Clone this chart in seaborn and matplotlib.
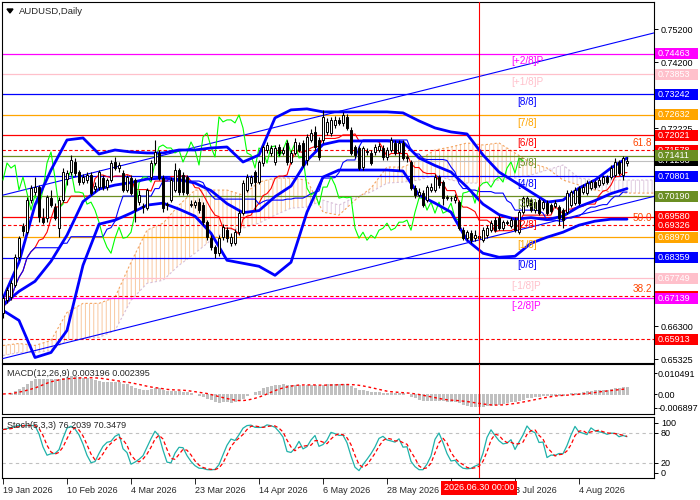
import numpy as np
import pandas as pd
import matplotlib
matplotlib.use("Agg")
import matplotlib.pyplot as plt
import seaborn as sns
from matplotlib.patches import Rectangle, Polygon

# ---------------- data ----------------
opens = [0.6669,0.6708,0.6717,0.6753,0.6837,0.6930,0.6912,0.7008,0.7032,0.7047,
0.6954,0.6954,0.7014,0.6987,0.6924,0.7008,0.7071,0.7092,0.7122,0.7092,
0.7062,0.7068,0.7083,0.7041,0.7047,0.7074,0.7047,0.7068,0.7122,0.7104,
0.7089,0.7038,0.7074,0.7068,0.7002,0.6987,0.6984,0.7077,0.7119,0.7149,
0.7074,0.6993,0.7008,0.7038,0.7098,0.7083,0.7077,0.6993,0.6993,0.7002,
0.6993,0.6942,0.6894,0.6867,0.6849,0.6897,0.6918,0.6879,0.6879,0.6912,
0.6969,0.7038,0.7059,0.7092,0.7062,0.7119,0.7158,0.7149,0.7122,0.7167,
0.7149,0.7179,0.7122,0.7149,0.7173,0.7179,0.7128,0.7188,0.7212,0.7188,
0.7188,0.7212,0.7209,0.7233,0.7248,0.7239,0.7257,0.7218,0.7167,0.7164,
0.7107,0.7152,0.7149,0.7152,0.7158,0.7164,0.7137,0.7158,0.7179,0.7152,
0.7179,0.7134,0.7122,0.7044,0.7023,0.7029,0.7008,0.7038,0.7038,0.7077,
0.7062,0.7014,0.7014,0.7008,0.7002,0.6918,0.6894,0.6909,0.6894,0.6900,
0.6888,0.6903,0.6918,0.6948,0.6954,0.6924,0.6939,0.6930,0.6948,0.6912,
0.6972,0.6993,0.7008,0.6978,0.7008,0.6984,0.6999,0.6993,0.6990,0.6987,
0.6978,0.6972,0.6993,0.6999,0.7044,0.7032,0.7029,0.7044,0.7062,0.7053,
0.7059,0.7077,0.7077,0.7083,0.7122,0.7083,0.7119]
closes = [0.6714,0.6738,0.6759,0.6837,0.6894,0.6915,0.7008,0.7044,0.7047,0.6957,
0.6942,0.7017,0.6993,0.6954,0.7008,0.7092,0.7089,0.7128,0.7089,0.7062,
0.7077,0.7083,0.7029,0.7050,0.7092,0.7047,0.7068,0.7119,0.7104,0.7113,
0.7038,0.7077,0.7029,0.6978,0.7023,0.6990,0.7038,0.7119,0.7152,0.7074,
0.6984,0.6996,0.7068,0.7098,0.7032,0.7032,0.7029,0.6996,0.7002,0.6978,
0.6942,0.6897,0.6867,0.6849,0.6894,0.6927,0.6894,0.6897,0.6912,0.6969,
0.7059,0.7077,0.7077,0.7062,0.7122,0.7167,0.7173,0.7164,0.7164,0.7149,
0.7158,0.7122,0.7149,0.7182,0.7158,0.7113,0.7197,0.7209,0.7167,0.7137,
0.7257,0.7242,0.7248,0.7248,0.7239,0.7263,0.7224,0.7149,0.7143,0.7104,
0.7164,0.7155,0.7119,0.7167,0.7170,0.7137,0.7158,0.7188,0.7149,0.7179,
0.7134,0.7137,0.7044,0.7023,0.7032,0.6993,0.7047,0.7047,0.7077,0.7053,
0.7014,0.7017,0.7015,0.7017,0.6924,0.6894,0.6912,0.6888,0.6903,0.6894,
0.6918,0.6924,0.6939,0.6918,0.6924,0.6942,0.6942,0.6948,0.6918,0.6972,
0.7014,0.7014,0.6978,0.7002,0.6969,0.7002,0.6969,0.6975,0.6999,0.6954,
0.6948,0.7029,0.7032,0.7038,0.6999,0.7047,0.7059,0.7062,0.7047,0.7068,
0.7077,0.7062,0.7104,0.7122,0.7089,0.7134,0.7126]
highs = [0.6723,0.6747,0.6768,0.6846,0.6900,0.6939,0.7017,0.7053,0.7077,0.7053,
0.6984,0.7023,0.7038,0.6999,0.7017,0.7104,0.7098,0.7143,0.7134,0.7098,
0.7086,0.7092,0.7092,0.7062,0.7098,0.7083,0.7074,0.7128,0.7137,0.7122,
0.7098,0.7083,0.7083,0.7074,0.7038,0.6999,0.7044,0.7128,0.7188,0.7158,
0.7083,0.7002,0.7077,0.7119,0.7104,0.7092,0.7083,0.7008,0.7008,0.7014,
0.7002,0.6948,0.6903,0.6873,0.6903,0.6936,0.6927,0.6909,0.6921,0.6978,
0.7068,0.7086,0.7083,0.7098,0.7128,0.7173,0.7182,0.7173,0.7173,0.7176,
0.7167,0.7188,0.7158,0.7194,0.7182,0.7188,0.7206,0.7221,0.7230,0.7197,
0.7278,0.7254,0.7257,0.7260,0.7257,0.7272,0.7266,0.7227,0.7173,0.7170,
0.7170,0.7164,0.7158,0.7176,0.7179,0.7173,0.7167,0.7197,0.7188,0.7188,
0.7188,0.7143,0.7128,0.7053,0.7044,0.7038,0.7053,0.7059,0.7086,0.7083,
0.7068,0.7023,0.7020,0.7026,0.7008,0.6927,0.6918,0.6918,0.6918,0.6912,
0.6927,0.6933,0.6948,0.6957,0.6963,0.6948,0.6948,0.6957,0.6957,0.6978,
0.7020,0.7020,0.7014,0.7008,0.7014,0.7008,0.7008,0.6999,0.7008,0.6993,
0.6984,0.7038,0.7038,0.7047,0.7050,0.7056,0.7068,0.7068,0.7068,0.7077,
0.7083,0.7083,0.7113,0.7134,0.7128,0.7140,0.7137]
lows = [0.6654,0.6699,0.6708,0.6747,0.6828,0.6900,0.6906,0.6999,0.7023,0.6942,
0.6936,0.6942,0.6987,0.6948,0.6897,0.7002,0.7053,0.7083,0.7080,0.7053,
0.7056,0.7059,0.7023,0.7032,0.7038,0.7038,0.7038,0.7062,0.7098,0.7092,
0.7032,0.7032,0.7023,0.6942,0.6993,0.6969,0.6978,0.7068,0.7113,0.7068,
0.6972,0.6978,0.7002,0.7032,0.7023,0.7023,0.7023,0.6987,0.6984,0.6969,
0.6933,0.6888,0.6858,0.6834,0.6840,0.6888,0.6882,0.6870,0.6873,0.6903,
0.6963,0.7032,0.7050,0.6978,0.7056,0.7110,0.7149,0.7140,0.7113,0.7140,
0.7143,0.7113,0.7116,0.7143,0.7152,0.7107,0.7113,0.7182,0.7158,0.7128,
0.7179,0.7203,0.7200,0.7224,0.7233,0.7230,0.7218,0.7143,0.7134,0.7098,
0.7098,0.7143,0.7113,0.7143,0.7152,0.7128,0.7128,0.7152,0.7143,0.7098,
0.7128,0.7122,0.7038,0.7014,0.7017,0.6987,0.7002,0.7032,0.7032,0.7044,
0.6993,0.7008,0.7005,0.6999,0.6918,0.6888,0.6888,0.6879,0.6885,0.6870,
0.6882,0.6894,0.6912,0.6912,0.6918,0.6918,0.6933,0.6924,0.6912,0.6906,
0.6966,0.6987,0.6972,0.6969,0.6963,0.6978,0.6963,0.6969,0.6984,0.6933,
0.6924,0.6966,0.6987,0.6993,0.6993,0.7026,0.7023,0.7038,0.7041,0.7047,
0.7053,0.7056,0.7071,0.7077,0.7083,0.7068,0.7110]

# Bollinger bands sampled every 4 bars
bb_bars = list(range(0, 157, 4))
bb_upper = [0.6714,0.6822,0.6993,0.7098,0.7188,0.7194,0.7146,0.7158,0.7152,0.7149,
0.7149,0.7158,0.7158,0.7164,0.7167,0.7122,0.7143,0.7254,0.7278,0.7281,
0.7272,0.7272,0.7272,0.7272,0.7272,0.7269,0.7245,0.7224,0.7212,0.7206,
0.7143,0.7092,0.7062,0.7032,0.7002,0.7008,0.7044,0.7068,0.7104,0.7134]
bb_lower = [0.6678,0.6648,0.6537,0.6552,0.6618,0.6813,0.6936,0.6948,0.6969,0.6993,
0.6999,0.6981,0.6960,0.6909,0.6828,0.6819,0.6810,0.6783,0.6822,0.6972,
0.7077,0.7098,0.7098,0.7098,0.7098,0.7095,0.7023,0.6999,0.6972,0.6888,
0.6849,0.6837,0.6840,0.6879,0.6897,0.6912,0.6933,0.6945,0.6951,0.6951]

# Ichimoku cloud (Senkou A / B) sampled every 4 bars, extended to the right edge
cloud_bars = list(range(0, 157, 4)) + [160, 163]
senkou_a = [0.6573,0.6579,0.6573,0.6588,0.6672,0.6699,0.6699,0.6717,0.6822,0.6918,
0.6939,0.6993,0.7038,0.7038,0.7038,0.7023,0.7062,0.7074,0.7074,0.7068,
0.6972,0.6963,0.7008,0.7044,0.7107,0.7107,0.7128,0.7158,0.7167,0.7179,
0.7173,0.7179,0.7149,0.7119,0.7104,0.7068,0.7053,0.7038,0.7032,0.7029,
0.7029,0.7029]
senkou_b = [0.6543,0.6552,0.6552,0.6558,0.6588,0.6594,0.6597,0.6618,0.6708,0.6759,
0.6768,0.6813,0.6849,0.6888,0.6918,0.6924,0.6939,0.6963,0.6984,0.6987,
0.7008,0.6993,0.7017,0.7032,0.7059,0.7062,0.7068,0.7083,0.7068,0.7059,
0.7059,0.7068,0.7074,0.7083,0.7098,0.7113,0.7074,0.7068,0.7068,0.7068,
0.7068,0.7068]

# trend channel end points
trend_bars = [0, 163]
trend_upper = [0.7023, 0.7509]
trend_lower = [0.6534, 0.7020]

# Murrey Math levels
mm_labels = ["[+2/8]P", "[+1/8]P", "[8/8]", "[7/8]", "[6/8]", "[5/8]", "[4/8]",
             "[3/8]", "[2/8]", "[1/8]", "[0/8]", "[-1/8]P", "[-2/8]P"]
mm_values = [0.74463, 0.73853, 0.73242, 0.72632, 0.72021, 0.71411, 0.70801,
             0.70190, 0.69580, 0.68970, 0.68359, 0.67749, 0.67139]
mm_colors = ["#FF00FF", "#FFC0CB", "#0000FF", "#FFA500", "#FF0000", "#6B8E23", "#0000FF",
             "#6B8E23", "#FF0000", "#FFA500", "#0000FF", "#FFC0CB", "#FF00FF"]

# Fibonacci levels
fib_labels = ["61.8", "50.0", "38.2", ""]
fib_values = [0.71578, 0.69326, 0.67200, 0.65913]

bid_price = 0.71263

price_ticks = [0.75200, 0.74200, 0.73225, 0.72225, 0.71250, 0.70250,
               0.69275, 0.68300, 0.67300, 0.66300, 0.65325]

date_ticks = [0, 16, 32, 48, 64, 80, 96, 112, 128, 144]
date_labels = ["19 Jan 2026", "10 Feb 2026", "4 Mar 2026", "23 Mar 2026", "14 Apr 2026",
               "6 May 2026", "28 May 2026", "19 Jun 2026", "3 Jul 2026", "4 Aug 2026"]
cursor_bar = 119
cursor_label = "2026.06.30 00:00"

macd_text = "MACD(12,26,9) 0.003196 0.002395"
macd_ticks = [0.010491, 0.0, -0.006897]
macd_tick_labels = ["0.010491", "0.00", "-0.006897"]
stoch_text = "Stoch(5,3,3) 76.2039 70.3479"
stoch_ticks = [100, 80, 20, 0]

# ---------------- style ----------------
sns.set_style("white")
plt.rcParams['font.family'] = ['Liberation Sans', 'DejaVu Sans']
plt.rcParams['hatch.linewidth'] = 0.7
FS = 6.5

W, H = 700, 500
fig = plt.figure(figsize=(7, 5), dpi=100)
fig.patch.set_facecolor('white')


def frame(l, t, r, b):
    return [l / W, 1 - b / H, (r - l) / W, (b - t) / H]


ax = fig.add_axes(frame(2, 2, 654, 363))
axm = fig.add_axes(frame(2, 364, 654, 414))
axs = fig.add_axes(frame(2, 417, 654, 478))

df = pd.DataFrame({"open": opens, "high": highs, "low": lows, "close": closes})
df["bar"] = np.arange(len(df))
XL = (-0.25, 162.75)

for a in (ax, axm, axs):
    a.set_xlim(*XL)
    a.set_facecolor('white')
    for s in a.spines.values():
        s.set_color('black')
        s.set_linewidth(0.8)
    a.yaxis.tick_right()
    a.tick_params(axis='y', which='both', right=True, left=False, length=3, width=0.7,
                  labelsize=FS, pad=2, colors='black')
    a.axvline(cursor_bar, color='red', lw=0.8, zorder=8)
axm.tick_params(axis='y', length=2, pad=0.8)

# ---------------- main panel ----------------
ax.set_ylim(0.65206, 0.76008)
ax.set_xticks([])
ax.set_yticks(price_ticks)
ax.set_yticklabels([f"{v:.5f}" for v in price_ticks])

ca = np.array(senkou_a)
cb = np.array(senkou_b)
cbars = np.array(cloud_bars)
ax.fill_between(cbars, ca, cb, where=ca >= cb, interpolate=True, facecolor='none',
                edgecolor='#F4A460', hatch='||||', lw=0, alpha=0.6, zorder=1)
ax.fill_between(cbars, ca, cb, where=ca < cb, interpolate=True, facecolor='none',
                edgecolor='#D8BFD8', hatch='||||', lw=0, alpha=0.8, zorder=1)
ax.plot(cbars, ca, color='#F4A460', lw=0.8, ls=(0, (2, 2)), zorder=1)
ax.plot(cbars, cb, color='#D8BFD8', lw=0.8, ls=(0, (2, 2)), zorder=1)

for v, c in zip(mm_values, mm_colors):
    ax.axhline(v, color=c, lw=0.9, zorder=2)
for v in fib_values:
    ax.axhline(v, color='#FF0000', lw=0.8, ls=(0, (3, 2)), zorder=2)
ax.axhline(bid_price, color='#C0C0C0', lw=0.8, zorder=2)

sns.lineplot(x=trend_bars, y=trend_upper, ax=ax, color='#0000FF', lw=0.8, zorder=3, legend=False)
sns.lineplot(x=trend_bars, y=trend_lower, ax=ax, color='#0000FF', lw=0.8, zorder=3, legend=False)

# Ichimoku lines from the candles
tenkan = (df["high"].rolling(9, min_periods=1).max() + df["low"].rolling(9, min_periods=1).min()) / 2
kijun = (df["high"].rolling(26, min_periods=1).max() + df["low"].rolling(26, min_periods=1).min()) / 2
sns.lineplot(x=df["bar"], y=tenkan, ax=ax, color='#FF0000', lw=0.8, zorder=3, legend=False)
sns.lineplot(x=df["bar"], y=kijun, ax=ax, color='#0000FF', lw=0.8, zorder=3, legend=False)
chikou_x = df["bar"].values[:-26]
chikou_y = df["close"].values[26:]
sns.lineplot(x=chikou_x, y=chikou_y, ax=ax, color='#00FF00', lw=0.8, zorder=3, legend=False)

# Bollinger bands
bbu = np.array(bb_upper)
bbl = np.array(bb_lower)
bbm = (bbu + bbl) / 2
for arr in (bbu, bbm, bbl):
    sns.lineplot(x=bb_bars, y=arr, ax=ax, color='#0000FF', lw=2.0, zorder=4, legend=False)

# candles
o = df["open"].values
c = df["close"].values
h = df["high"].values
l = df["low"].values
x = df["bar"].values
up = c >= o
ax.vlines(x, l, h, color='black', lw=0.8, zorder=5)
ax.bar(x[up], np.maximum(c[up] - o[up], 0.00003), bottom=o[up], width=0.6,
       color='white', edgecolor='black', lw=0.7, zorder=6)
ax.bar(x[~up], np.maximum(o[~up] - c[~up], 0.00003), bottom=c[~up], width=0.6,
       color='black', edgecolor='black', lw=0.7, zorder=6)

# level texts
for lab, v, col in zip(mm_labels, mm_values, mm_colors):
    bx = 127 if lab.endswith("P") else 128.5
    ax.annotate(lab, xy=(bx, v), xytext=(0, -2), textcoords='offset points',
                ha='left', va='top', fontsize=7.2, color=col, zorder=7)
for lab, v in zip(fib_labels, fib_values):
    if lab:
        ax.annotate(lab, xy=(162.2, v), xytext=(0, 1.5), textcoords='offset points',
                    ha='right', va='bottom', fontsize=7.2, color='#FF4500', zorder=7)

# ---------------- MACD panel ----------------
ema12 = df["close"].ewm(span=12, adjust=False).mean()
ema26 = df["close"].ewm(span=26, adjust=False).mean()
macd = ema12 - ema26
signal = macd.rolling(9, min_periods=1).mean()
axm.set_ylim(-0.00999, 0.01499)
axm.set_xticks([])
axm.vlines(df["bar"], 0, macd, color='#C0C0C0', lw=0.75, antialiased=False, zorder=2)
axm.plot(df["bar"], signal, color='red', lw=1.0, ls=(0, (2, 2)), zorder=3)
axm.set_yticks(macd_ticks)
axm.set_yticklabels(macd_tick_labels)
axm.text(0.008, 0.82, macd_text, transform=axm.transAxes, fontsize=FS, va='center', ha='left')

# ---------------- Stochastic panel ----------------
hh = df["high"].rolling(5, min_periods=1).max()
ll = df["low"].rolling(5, min_periods=1).min()
num = (df["close"] - ll).rolling(3, min_periods=1).sum()
den = (hh - ll).rolling(3, min_periods=1).sum()
stk = 100 * num / den
std_ = stk.rolling(3, min_periods=1).mean()
axs.set_ylim(-10, 112)
axs.axhline(80, color='#C0C0C0', lw=0.8, ls=(0, (3, 3)), zorder=1)
axs.axhline(20, color='#C0C0C0', lw=0.8, ls=(0, (3, 3)), zorder=1)
sns.lineplot(x=df["bar"], y=stk, ax=axs, color='#20B2AA', lw=0.9, zorder=3, legend=False)
axs.plot(df["bar"], std_, color='red', lw=0.9, ls=(0, (3, 2)), zorder=3)
axs.set_yticks(stoch_ticks)
axs.set_yticklabels([str(t) for t in stoch_ticks])
axs.text(0.008, 0.86, stoch_text, transform=axs.transAxes, fontsize=FS, va='center', ha='left')
for a in (ax, axm, axs):
    a.set_xlabel("")
    a.set_ylabel("")
axs.set_xticks(date_ticks)
axs.set_xticklabels(date_labels)
axs.tick_params(axis='x', bottom=True, length=4, width=0.7, labelsize=FS, pad=1.5, direction='out')
for t in axs.get_xticklabels():
    t.set_ha('left')

# ---------------- right-hand price boxes ----------------
z = [20]


def price_box(axis, value, text, color, fg='white'):
    pos = axis.get_position()
    lo, hi = axis.get_ylim()
    yf = pos.y0 + (value - lo) / (hi - lo) * pos.height
    fig.add_artist(Rectangle((655 / W, yf - 5.5 / H), 43 / W, 11 / H, transform=fig.transFigure,
                             facecolor=color, edgecolor='none', zorder=z[0]))
    fig.text(658 / W, yf, text, color=fg, fontsize=FS, va='center', ha='left', zorder=z[0] + 1)
    z[0] += 2


price_box(ax, bid_price, f"{bid_price:.5f}", 'black')
for v in fib_values:
    price_box(ax, v, f"{v:.5f}", '#FF0000')
for v, col in zip(mm_values, mm_colors):
    price_box(ax, v, f"{v:.5f}", col)

# ---------------- title / cursor label ----------------
fig.add_artist(Polygon([[7 / W, 1 - 9 / H], [13 / W, 1 - 9 / H], [10 / W, 1 - 13 / H]],
                       closed=True, transform=fig.transFigure, facecolor='black', edgecolor='black'))
fig.text(19 / W, 1 - 11 / H, "AUDUSD,Daily", fontsize=6.8, va='center', ha='left')
fig.text(479 / W, 1 - 488 / H, cursor_label, ha='center', va='center', color='white', fontsize=FS,
         zorder=60, bbox=dict(boxstyle='square,pad=0.3', fc='red', ec='none'))

fig.savefig("out.png", dpi=100, facecolor='white')
